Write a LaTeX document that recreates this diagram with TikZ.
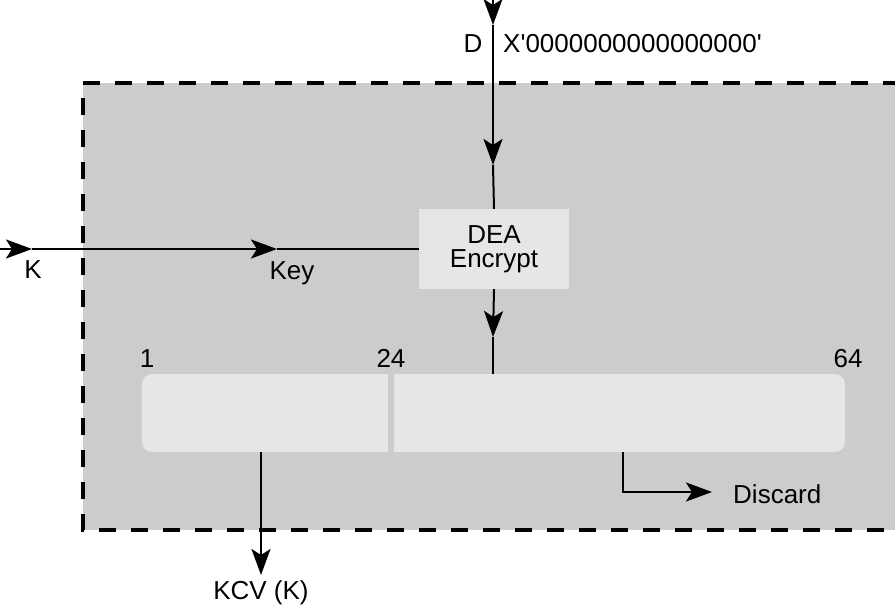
\documentclass[tikz,border=0pt]{standalone}
\usepackage{fontspec}
\setmainfont{Liberation Sans}
\usetikzlibrary{arrows.meta}
\definecolor{bg}{HTML}{CCCCCC}
\definecolor{lt}{HTML}{E6E6E6}
\begin{document}
\begin{tikzpicture}[x=1pt,y=-1pt,
  line/.style={line width=2pt, black},
  arr/.style={line, -{Stealth[length=26pt 0 0,width=19pt 0 0,inset=6pt 0]}},
  lbl/.style={font=\fontsize{26}{30}\selectfont, anchor=base, inner sep=0pt},
]
\useasboundingbox (0,0) rectangle (895,605);
% dashed region
\fill[bg] (83,83) rectangle (900,530);
\draw[line width=4pt, dash pattern=on 17pt off 15pt] (900,83) -- (83,83) -- (83,530) -- (900,530);
% DEA box
\node[fill=lt, minimum width=150pt, minimum height=80pt, inner sep=0pt, align=center,
      font=\fontsize{26}{25}\selectfont] (dea) at (494,249) {DEA\\[-1pt]Encrypt};
% bar
\node[fill=lt, rounded corners=10pt, minimum width=703pt, minimum height=78pt, inner sep=0pt] (bar) at (493.5,413) {};
\fill[bg] (388,374) rectangle (394,452);
% coordinates
\coordinate (dtop) at (493,0);
\coordinate (d1) at (493,25);
\coordinate (d2) at (493,165);
\coordinate (d3) at (493,337);
\coordinate (kstart) at (0,249);
\coordinate (k1) at (32,249);
\coordinate (k2) at (277,249);
\coordinate (kcvtip) at (261,575);
\coordinate (dc1) at (623,492);
\coordinate (dctip) at (712,492);
% connectors
\draw[arr] (dtop) -- (d1);
\draw[arr] (d1) -- (d2);
\draw[line] (d2) -- (dea.north);
\draw[arr] (dea.south) -- (d3);
\draw[line] (d3) -- (d3 |- bar.north);
\draw[arr] (kstart) -- (k1);
\draw[arr] (k1) -- (k2);
\draw[line] (k2) -- (dea.west);
\draw[arr] (kcvtip |- bar.south) -- (kcvtip);
\draw[arr] (dc1 |- bar.south) -- (dc1) -- (dctip);
% labels
\node[lbl] (lD) at (473,52) {D};
\node[lbl, anchor=base west] (lX) at (503,52) {X\textquotesingle 0000000000000000\textquotesingle};
\node[lbl] (lK) at (33,278) {K};
\node[lbl] (lKey) at (292,279) {Key};
\node[lbl] (l1) at (147,367) {1};
\node[lbl] (l24) at (391,367) {24};
\node[lbl] (l64) at (848,367) {64};
\node[lbl, anchor=base west] (ldisc) at (733,503) {Discard};
\node[lbl] (lkcv) at (261,599) {KCV (K)};
\end{tikzpicture}
\end{document}
